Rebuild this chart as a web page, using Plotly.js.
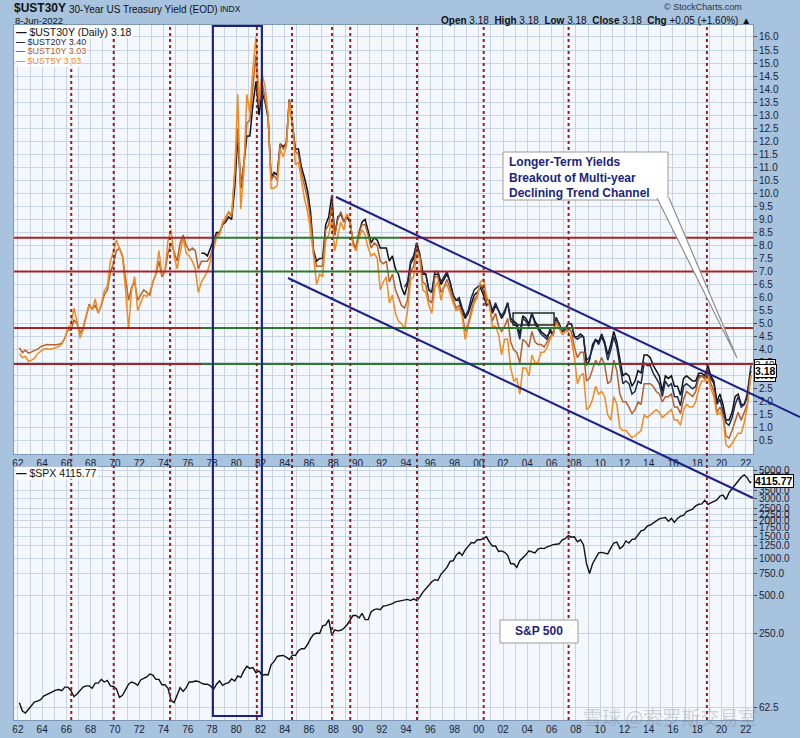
<!DOCTYPE html>
<html><head><meta charset="utf-8">
<script src="https://cdn.plot.ly/plotly-3.0.1.min.js"></script>
<style>html,body{margin:0;padding:0;background:#a8c3de;}#chart{width:800px;height:738px;}</style>
</head><body><div id="chart"></div>
<script>
// ---------- DATA (quarterly readings: Feb, May, Aug, Nov; 2022: Feb, May, 8-Jun) ----------
const firstYear = 1962;
const lastDate = 2022.437;
const ust5 = [
3.85,3.70,3.75,3.55, 3.60,3.68,3.85,3.95, 4.02,4.05,4.02,4.05, 4.10,4.12,4.22,4.45,
4.85,4.95,5.60,5.10, 4.45,4.75,5.25,5.70, 5.55,5.95,5.40,5.75, 6.25,6.45,7.40,7.75,
8.20,7.90,7.55,6.30, 4.80,6.30,6.80,5.50, 5.80,6.10,6.05,6.20, 6.60,6.90,7.80,6.90,
7.00,8.20,8.60,7.60, 7.10,7.70,8.30,7.70, 7.60,7.40,7.10,6.20, 6.60,6.80,7.00,7.40,
7.80,8.30,8.40,8.90, 9.10,9.30,9.20,10.80, 13.80,9.40,10.80,13.80, 13.10,14.80,16.00,13.60,
14.60,14.10,13.00,10.20, 10.20,10.30,11.70,11.40, 11.80,13.50,12.80,11.10, 11.20,10.40,9.80,9.30,
8.60,7.60,6.50,6.90, 6.80,8.20,8.40,9.00, 7.80,8.40,8.90,8.60, 9.20,9.00,8.00,7.80,
8.30,8.60,8.40,7.90, 7.60,7.70,7.50,6.30, 6.60,6.80,5.80,6.10, 5.40,5.10,5.00,4.80,
5.50,6.70,6.80,7.70, 7.50,6.30,6.20,5.70, 5.40,6.40,6.60,5.90, 6.40,6.50,6.10,5.80,
5.50,5.60,5.30,4.40, 4.90,5.30,5.80,6.00, 6.60,6.70,6.10,5.70, 4.90,4.90,4.60,3.80,
4.40,4.40,3.30,2.80, 2.90,2.30,3.30,3.30, 3.00,3.80,3.50,3.50, 3.90,3.90,4.10,4.40,
4.60,5.00,4.80,4.60, 4.70,4.70,4.40,3.70, 2.70,3.00,3.10,1.70, 1.80,2.10,2.60,2.30,
2.40,2.20,1.50,1.30, 2.20,1.90,1.00,0.90, 0.90,0.75,0.62,0.70, 0.80,0.90,1.50,1.40,
1.50,1.60,1.70,1.60, 1.40,1.50,1.60,1.70, 1.30,1.30,1.10,1.70, 1.90,1.80,1.80,2.00,
2.50,2.80,2.80,2.95, 2.50,2.20,1.50,1.60, 1.40,0.35,0.25,0.40, 0.60,0.80,0.80,1.20,
1.80,2.90,3.03];
const ust10 = [
4.08,3.89,3.98,3.87, 3.92,3.97,4.02,4.12, 4.15,4.20,4.19,4.18, 4.19,4.21,4.25,4.45,
4.77,4.74,5.15,5.00, 4.63,4.85,5.28,5.75, 5.56,5.70,5.42,5.70, 6.11,6.28,6.97,7.30,
7.80,7.90,7.60,6.80, 5.90,6.40,6.60,5.90, 6.10,6.30,6.20,6.10, 6.60,6.90,7.40,6.80,
7.00,7.70,8.10,7.70, 7.40,8.10,8.40,8.00, 7.80,7.90,7.80,7.10, 7.40,7.40,7.40,7.60,
8.00,8.40,8.50,8.80, 9.00,9.30,9.10,10.70, 12.50,10.30,11.10,12.70, 12.80,14.10,15.30,13.40,
14.30,13.60,13.00,10.50, 10.70,10.50,11.90,11.70, 11.90,13.60,12.70,11.60, 11.50,10.80,10.30,9.80,
9.00,7.70,7.20,7.20, 7.20,8.60,8.80,9.50, 8.40,9.00,9.30,8.90, 9.20,9.00,8.10,7.90,
8.50,8.80,8.80,8.40, 7.90,8.10,8.00,7.40, 7.30,7.40,6.60,6.90, 6.30,6.00,5.70,5.60,
5.90,7.00,7.20,7.90, 7.60,6.60,6.50,5.90, 5.80,6.80,6.80,6.20, 6.40,6.70,6.30,5.90,
5.60,5.70,5.40,4.70, 5.00,5.50,5.90,6.10, 6.50,6.40,5.80,5.70, 5.10,5.40,4.90,4.70,
4.90,5.20,4.30,4.00, 3.90,3.50,4.40,4.30, 4.10,4.70,4.30,4.20, 4.20,4.10,4.30,4.50,
4.60,5.10,4.90,4.60, 4.70,4.80,4.70,4.10, 3.70,3.90,3.90,2.80, 2.90,3.30,3.60,3.40,
3.70,3.40,2.70,2.80, 3.60,3.20,2.30,2.00, 2.00,1.80,1.55,1.70, 2.00,1.90,2.70,2.70,
2.70,2.60,2.40,2.30, 2.00,2.20,2.20,2.30, 1.80,1.80,1.55,2.10, 2.40,2.30,2.20,2.40,
2.90,3.00,2.90,3.15, 2.70,2.40,1.60,1.80, 1.50,0.70,0.60,0.90, 1.30,1.60,1.30,1.60,
1.90,2.90,3.03];
const ust30StartQuarter = 60;   // Feb 1977
const ust30 = [
7.70,7.70,7.60,7.90, 8.20,8.50,8.50,8.80, 8.90,9.10,9.00,10.20, 12.20,10.20,11.10,12.20,
12.20,13.40,14.30,13.00, 13.90,13.50,12.90,10.60, 10.80,10.70,11.90,11.80, 11.90,13.60,12.70,11.70,
11.70,11.00,10.60,10.10, 9.30,7.80,7.40,7.50, 7.50,8.80,9.10,9.90, 8.40,9.10,9.20,8.90,
9.10,8.90,8.10,7.90, 8.50,8.90,9.00,8.50, 8.10,8.30,8.20,7.90, 7.90,7.90,7.40,7.60,
7.10,6.90,6.40,6.10, 6.50,7.30,7.50,8.10, 7.60,6.90,6.90,6.30, 6.20,6.90,6.90,6.50,
6.70,6.90,6.60,6.10, 5.90,5.90,5.50,5.20, 5.40,5.80,6.10,6.20, 6.40,6.10,5.70,5.80,
5.40,5.70,5.50,5.20, 5.40,5.80,5.20,5.10, 5.00,4.60,5.30,5.20, 5.00,5.40,5.10,4.90,
4.70,4.60,4.50,4.70, 4.55,5.20,5.00,4.70, 4.80,5.00,5.00,4.50, 4.50,4.60,4.50,3.40,
3.60,4.20,4.40,4.30, 4.60,4.30,3.80,4.20, 4.70,4.30,3.60,3.00, 3.10,3.00,2.60,2.80,
3.20,3.10,3.80,3.80, 3.70,3.40,3.20,3.00, 2.40,3.00,2.90,3.00, 2.60,2.60,2.25,2.90,
3.00,2.90,2.80,2.80, 3.10,3.10,3.00,3.40, 3.00,2.80,2.00,2.30, 1.90,1.30,1.30,1.60,
2.20,2.30,1.90,1.90, 2.20,3.10,3.18];
const ust20StartQuarter = 127;  // Nov 1993
const ust20 = [
6.40,
6.60,7.40,7.60,8.10, 7.70,7.00,6.90,6.30, 6.20,7.00,7.00,6.60, 6.80,7.00,6.60,6.10,
5.90,6.00,5.60,5.30, 5.50,6.00,6.30,6.40, 6.50,6.30,5.90,5.90, 5.50,5.80,5.50,5.30,
5.50,5.80,5.10,5.00, 4.90,4.40,5.20,5.10, 4.90,5.40,5.00,4.80, 4.60,4.50,4.40,4.80,
4.60,5.25,5.00,4.70, 4.80,5.00,5.00,4.50, 4.40,4.50,4.50,3.60, 3.70,4.10,4.40,4.20,
4.50,4.20,3.60,4.00, 4.50,4.10,3.30,2.70, 2.80,2.70,2.30,2.40, 2.80,2.70,3.50,3.40,
3.40,3.10,2.90,2.70, 2.20,2.80,2.60,2.70, 2.20,2.20,1.85,2.60, 2.70,2.60,2.50,2.60,
3.00,3.00,2.90,3.25, 2.90,2.70,1.90,2.10, 1.70,1.20,1.10,1.40, 1.90,2.20,1.80,1.90,
2.30,3.30,3.40];
const spx = [
69,59,57,61, 66,70,71,73, 78,80,83,84, 87,88,86,92,
92,86,77,81, 87,92,94,94, 90,99,99,106, 101,104,94,93,
89,76,79,87, 97,101,99,95, 105,108,111,117, 115,106,106,96,
96,90,72,69, 80,91,85,91, 101,101,103,102, 99,97,97,94,
88,97,103,95, 98,100,107,103, 113,110,124,135, 130,132,120,124,
114,116,115,139, 148,162,164,165, 160,153,166,165, 180,187,187,202,
225,244,250,248, 285,290,320,240, 265,260,263,273, 290,315,345,345,
330,360,320,320, 370,385,390,385, 412,415,420,430, 445,450,460,465,
465,455,470,455, 485,530,565,600, 645,670,660,740, 790,840,940,950,
1050,1110,1050,1160, 1240,1330,1320,1400, 1400,1430,1480,1340, 1250,1250,1130,1140,
1110,1050,900,900, 840,950,1000,1060, 1140,1120,1100,1180, 1200,1190,1230,1250,
1280,1290,1300,1400, 1430,1510,1470,1480, 1350,1400,1280,900, 750,900,1000,1100,
1110,1090,1080,1200, 1320,1340,1190,1240, 1370,1320,1410,1420, 1520,1650,1680,1800,
1840,1920,2000,2060, 2090,2110,1970,2080, 1930,2080,2170,2200, 2360,2400,2470,2620,
2700,2720,2900,2700, 2780,2850,2930,3140, 3200,2950,3350,3600, 3900,4150,4450,4650,
4400,4000,4115.77];
const yieldTicks = [];
for (let v = 0.5; v <= 16.001; v += 0.5) yieldTicks.push(+v.toFixed(1));
const spxTicks = [62.5,250,500,750,1000,1250,1500,1750,2000,2250,2500,3000,3500,4500,5000];
const markerYears = [1966.4,1969.9,1974.55,1981.7,1984.6,1987.9,1989.4,1994.9,2000.4,2007.4,2018.8];
const levelValues = [8.3, 7.0, 4.83, 3.45];
const greenFrom = [1978.08, 1978.08, 1977.18, 1977.18];
const greenTo = [1993.5, 1993.5, 2007.9, 2011.6];

// ---------- time axis ----------
const times = [];
for (let y = firstYear; y <= 2021; y++) for (let q = 0; q < 4; q++) times.push(y + 0.125 + 0.25*q);
times.push(2022.125, 2022.375, lastDate);

// ---------- geometry helpers (pixel -> paper) ----------
const W=800, H=738, L=14, R=47, T=25, B=18;
const PW=W-L-R, PH=H-T-B;
const px = x => (x-L)/PW;
const py = y => (H-B-y)/PH;
const XR = [1961.68, 2022.6];

const FONT = 'Liberation Sans, Arial, sans-serif';
const tr = (x,y,color,xa,ya,w) => ({type:'scatter',mode:'lines',x,y,xaxis:xa,yaxis:ya,
  line:{color,width:w||1.5},hoverinfo:'skip',showlegend:false});
const data = [
  tr(times.slice(ust30StartQuarter), ust30, '#111111','x','y'),
  tr(times.slice(ust20StartQuarter), ust20, '#1f2b4d','x','y'),
  tr(times, ust10, '#b3622c','x','y'),
  tr(times, ust5, '#f28a1f','x','y'),
  tr(times, spx, '#111111','x2','y2',1.4)
];

const yearVals=[], yearText=[];
for (let y=1962; y<=2022; y++){ yearVals.push(y); yearText.push(y%2===0 ? String(y%100).padStart(2,'0') : ''); }

const xax = {range:XR, tickmode:'array', tickvals:yearVals, ticktext:yearText, showgrid:true,
  gridcolor:'#c8d4e3', gridwidth:1, ticks:'', zeroline:false, showline:true, linecolor:'#7d97b6', mirror:true,
  tickfont:{family:FONT,size:10,color:'#1b2233'}, fixedrange:true};

const shapes = [];
levelValues.forEach((v,i)=>{
  const segs=[[XR[0],greenFrom[i],'#a82424'],[greenFrom[i],greenTo[i],'#2b7a2b'],[greenTo[i],XR[1],'#a82424']];
  segs.forEach(s=>shapes.push({type:'line',xref:'x',yref:'y',x0:s[0],x1:s[1],y0:v,y1:v,line:{color:s[2],width:2},layer:'above'}));
});
markerYears.forEach(x=>shapes.push({type:'line',xref:'x',yref:'paper',x0:x,x1:x,y0:py(720),y1:1,
  line:{color:'#9c1c1c',width:2,dash:'dot'},layer:'above'}));
shapes.push({type:'rect',xref:'x',yref:'paper',x0:1978.08,x1:1982.12,y0:py(716),y1:py(26),line:{color:'#1c2088',width:2},layer:'above'});
shapes.push({type:'line',xref:'paper',yref:'paper',x0:px(336),y0:py(197),x1:px(800),y1:py(417),line:{color:'#1c2088',width:2},layer:'above'});
shapes.push({type:'line',xref:'paper',yref:'paper',x0:px(288),y0:py(278),x1:px(753),y1:py(498),line:{color:'#1c2088',width:2},layer:'above'});
shapes.push({type:'rect',xref:'x',yref:'y',x0:2002.82,x1:2006.2,y0:4.95,y1:5.41,line:{color:'#1d2a1d',width:1.5},layer:'above'});
shapes.push({type:'rect',xref:'paper',yref:'paper',x0:px(503),x1:px(668),y0:py(200),y1:py(152),fillcolor:'#ffffff',line:{color:'#9a9a9a',width:1},layer:'above'});
shapes.push({type:'path',xref:'paper',yref:'paper',path:`M ${px(657)} ${py(198)} L ${px(737)} ${py(358)} L ${px(669)} ${py(198)}`,fillcolor:'#ffffff',line:{color:'#8f8f8f',width:1.2},layer:'above'});
shapes.push({type:'rect',xref:'paper',yref:'paper',x0:px(500),x1:px(578),y0:py(643),y1:py(620),fillcolor:'#ffffff',line:{color:'#9a9a9a',width:1},layer:'above'});

const A = (x,y,text,opt) => Object.assign({xref:'paper',yref:'paper',x:px(x),y:py(y),text,showarrow:false,
  xanchor:'left',yanchor:'middle',font:{family:FONT,size:10,color:'#111'}},opt||{});
const annotations = [
  A(12,8,'<b>$UST30Y</b>',{font:{family:FONT,size:12,color:'#111'}}),
  A(67,9,'30-Year US Treasury Yield (EOD)',{font:{family:FONT,size:10,color:'#111'}}),
  A(218,9,'INDX',{font:{family:FONT,size:8.5,color:'#111'}}),
  A(13,20,'8-Jun-2022',{font:{family:FONT,size:9.5,color:'#111'}}),
  A(744,7,'© StockCharts.com',{xanchor:'right',font:{family:FONT,size:9,color:'#333'}}),
  A(753,20,'<b>Open</b> 3.18  <b>High</b> 3.18  <b>Low</b> 3.18  <b>Close</b> 3.18  <b>Chg</b> +0.05 (+1.60%) ▲',{xanchor:'right',font:{family:FONT,size:10,color:'#111'}}),
  A(15,32,'<b>—</b> $UST30Y (Daily) 3.18',{bgcolor:'rgba(255,255,255,0.92)',borderpad:0,font:{family:FONT,size:10.5,color:'#111'}}),
  A(15,42,'<b>—</b> $UST20Y 3.40',{bgcolor:'rgba(255,255,255,0.85)',borderpad:0,font:{family:FONT,size:9,color:'#1f2b4d'}}),
  A(15,51,'<b>—</b> $UST10Y 3.03',{bgcolor:'rgba(255,255,255,0.85)',borderpad:0,font:{family:FONT,size:9,color:'#b3622c'}}),
  A(15,61,'<b>—</b> $UST5Y 3.03',{bgcolor:'rgba(255,255,255,0.85)',borderpad:0,font:{family:FONT,size:9,color:'#f28a1f'}}),
  A(15,473,'<b>—</b> $SPX 4115.77',{bgcolor:'rgba(255,255,255,0.85)',borderpad:0,font:{family:FONT,size:10.5,color:'#111'}}),
  A(507,177,'<b>Longer-Term Yields<br>Breakout of Multi-year<br>Declining Trend Channel</b>',{align:'left',font:{family:FONT,size:12,color:'#1a1f80'}}),
  A(539,631,'<b>S&P 500</b>',{xanchor:'center',font:{family:FONT,size:12,color:'#1a1f80'}}),
  A(670,716,'雪球 @索罗斯交易室',{xanchor:'center',font:{family:'Noto Sans CJK SC, sans-serif',size:19,color:'rgba(110,110,110,0.28)'}}),
  {xref:'paper',yref:'y',x:px(754),y:3.40,text:'3.40',showarrow:false,xanchor:'left',yanchor:'middle',bgcolor:'#fff',bordercolor:'#000',borderwidth:1,borderpad:0,font:{family:FONT,size:10,color:'#111'}},
  {xref:'paper',yref:'y',x:px(754),y:3.03,text:'3.03',showarrow:false,xanchor:'left',yanchor:'middle',bgcolor:'#fff',bordercolor:'#000',borderwidth:1,borderpad:0,font:{family:FONT,size:10,color:'#111'}},
  {xref:'paper',yref:'y',x:px(754),y:3.18,text:'<b>3.18</b>',showarrow:false,xanchor:'left',yanchor:'middle',bgcolor:'#fff',bordercolor:'#000',borderwidth:1,borderpad:0,font:{family:FONT,size:10.5,color:'#000'}},
  {xref:'paper',yref:'y2',x:px(754),y:Math.log10(4115.77),text:'<b>4115.77</b>',showarrow:false,xanchor:'left',yanchor:'middle',bgcolor:'#fff',bordercolor:'#000',borderwidth:1,borderpad:0,font:{family:FONT,size:10.5,color:'#000'}}
];

const layout = {
  width:W, height:H, autosize:false, margin:{l:L,r:R,t:T,b:B,pad:0},
  paper_bgcolor:'#a8c3de', plot_bgcolor:'#f4f7fb', showlegend:false,
  xaxis: Object.assign({}, xax, {anchor:'y', domain:[0,1]}),
  xaxis2: Object.assign({}, xax, {anchor:'y2', domain:[0,1], matches:'x'}),
  yaxis: {domain:[py(454),1], range:[0,16.46], side:'right', anchor:'x', tickmode:'array', tickvals:yieldTicks,
    ticktext:yieldTicks.map(v=>v.toFixed(1)), ticks:'outside', ticklen:3, tickcolor:'#444', showgrid:true, gridcolor:'#c8d4e3',
    zeroline:false, showline:true, linecolor:'#7d97b6', mirror:true, tickfont:{family:FONT,size:10,color:'#1b2233'}, fixedrange:true},
  yaxis2: {domain:[0,py(467)], type:'log', range:[Math.log10(50.06), Math.log10(5377)], side:'right', anchor:'x2', tickmode:'array',
    tickvals:spxTicks, ticktext:spxTicks.map(v=>v.toFixed(1)), ticks:'outside', ticklen:3, tickcolor:'#444', showgrid:true, gridcolor:'#c8d4e3',
    zeroline:false, showline:true, linecolor:'#7d97b6', mirror:true, tickfont:{family:FONT,size:10,color:'#1b2233'}, fixedrange:true},
  shapes, annotations
};
Plotly.newPlot('chart', data, layout, {staticPlot:true, displayModeBar:false});
</script></body></html>
